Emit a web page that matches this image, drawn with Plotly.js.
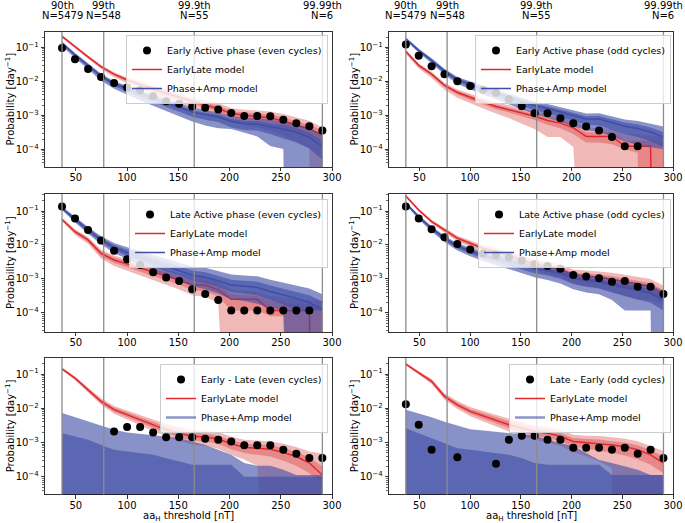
<!DOCTYPE html>
<html>
<head>
<meta charset="utf-8">
<script src="https://cdn.plot.ly/plotly-3.0.1.min.js"></script>
<style>
  html, body { margin: 0; padding: 0; background: #fff; }
  #chart { width: 685px; height: 523px; }
</style>
</head>
<body>
<div id="chart"></div>
<script>
// aaH thresholds [nT] at which the probabilities are evaluated
const thresh = [36.6, 49.3, 62.0, 74.7, 87.4, 100.1, 112.8, 125.5, 138.2, 150.9, 163.6,
                176.3, 189.0, 201.7, 214.4, 227.1, 239.8, 252.5, 265.2, 277.9, 290.6];

// percentile markers (top labels)
const pctX = [36.6, 77.3, 165.6, 290.6];
const pctName = ['90th', '99th', '99.9th', '99.99th'];
const pctCount = [5479, 548, 55, 6];

const panelNames = ['Early Active phase (even cycles)', 'Early Active phase (odd cycles)',
                    'Late Active phase (even cycles)', 'Late Active phase (odd cycles)',
                    'Early - Late (even cycles)', 'Late - Early (odd cycles)'];

// all values below: log10 of probability [day^-1], null = zero probability
// el = EarlyLate model, pa = Phase+Amp model; in = inner band, out = outer band

// panel 1 : Early Active, even cycles
const p1_obs = [-1.02,-1.35,-1.64,-1.87,-2.05,-2.18,-2.26,-2.44,-2.59,-2.66,-2.74,-2.78,-2.83,-2.93,-3.02,-3.02,-3.03,-3.13,-3.23,-3.32,-3.45];
const p1_el_med = [-0.68,-0.99,-1.28,-1.57,-1.79,-1.96,-2.10,-2.23,-2.35,-2.47,-2.60,-2.70,-2.80,-2.95,-3.00,-3.03,-3.08,-3.17,-3.28,-3.40,-3.58];
const p1_el_hi_in = [-0.66,-0.97,-1.26,-1.55,-1.76,-1.93,-2.06,-2.18,-2.30,-2.42,-2.54,-2.63,-2.72,-2.87,-2.92,-2.94,-2.98,-3.06,-3.16,-3.28,-3.44];
const p1_el_lo_in = [-0.70,-1.01,-1.31,-1.60,-1.83,-2.00,-2.15,-2.29,-2.41,-2.54,-2.67,-2.78,-2.89,-3.05,-3.10,-3.14,-3.20,-3.31,-3.44,-3.58,-3.80];
const p1_el_hi_out = [-0.64,-0.95,-1.24,-1.52,-1.73,-1.89,-2.02,-2.13,-2.25,-2.36,-2.48,-2.56,-2.64,-2.79,-2.84,-2.86,-2.89,-2.96,-3.05,-3.16,-3.35];
const p1_el_lo_out = [-0.72,-1.04,-1.34,-1.64,-1.88,-2.06,-2.22,-2.37,-2.50,-2.64,-2.78,-2.90,-3.02,-3.20,-3.28,-3.35,-3.45,-3.60,-3.78,-3.95,null];
const p1_pa_med = [-0.88,-1.22,-1.53,-1.85,-2.07,-2.22,-2.36,-2.49,-2.62,-2.75,-2.90,-2.98,-3.05,-3.18,-3.25,-3.26,-3.32,-3.40,-3.50,-3.65,-3.92];
const p1_pa_hi_in = [-0.85,-1.19,-1.50,-1.81,-2.03,-2.18,-2.32,-2.44,-2.57,-2.70,-2.84,-2.92,-2.98,-3.10,-3.16,-3.17,-3.22,-3.29,-3.38,-3.52,-3.75];
const p1_pa_lo_in = [-0.92,-1.27,-1.58,-1.91,-2.14,-2.31,-2.46,-2.60,-2.74,-2.88,-3.04,-3.13,-3.20,-3.36,-3.43,-3.45,-3.55,-3.68,-3.80,-3.98,-4.30];
const p1_pa_hi_out = [-0.83,-1.17,-1.47,-1.78,-2.00,-2.14,-2.27,-2.39,-2.52,-2.64,-2.77,-2.85,-2.91,-3.02,-3.07,-3.08,-3.12,-3.18,-3.26,-3.38,-3.58];
const p1_pa_lo_out = [-0.96,-1.32,-1.64,-1.98,-2.22,-2.40,-2.56,-2.72,-2.87,-3.02,-3.18,-3.30,-3.38,-3.40,-3.50,-3.62,-3.90,-3.99,null,null,null];

// panel 2 : Early Active, odd cycles
const p2_obs = [-0.92,-1.25,-1.56,-1.79,-2.00,-2.14,-2.25,-2.34,-2.53,-2.73,-2.94,-2.94,-3.09,-3.23,-3.33,-3.45,-3.64,-3.91,-3.91,null,null];
const p2_el_med = [-1.12,-1.53,-1.79,-2.12,-2.33,-2.48,-2.61,-2.74,-2.83,-2.93,-3.03,-3.15,-3.23,-3.37,-3.62,-3.62,-3.62,-3.91,-3.91,-3.91,null];
const p2_el_hi_in = [-1.10,-1.50,-1.76,-2.08,-2.28,-2.43,-2.56,-2.68,-2.77,-2.86,-2.96,-3.07,-3.15,-3.28,-3.50,-3.50,-3.50,-3.75,-3.75,-3.75,-3.80];
const p2_el_lo_in = [-1.15,-1.57,-1.84,-2.17,-2.39,-2.55,-2.68,-2.82,-2.92,-3.03,-3.14,-3.28,-3.38,-3.55,-3.80,-3.80,-3.85,-4.00,-4.10,null,null];
const p2_el_hi_out = [-1.08,-1.47,-1.72,-2.04,-2.24,-2.38,-2.50,-2.62,-2.70,-2.79,-2.88,-2.98,-3.06,-3.18,-3.35,-3.38,-3.40,-3.55,-3.55,-3.60,-3.62];
const p2_el_lo_out = [-1.20,-1.62,-1.90,-2.25,-2.48,-2.65,-2.80,-2.95,-3.08,-3.25,-3.40,-3.64,-3.64,-3.93,null,null,null,null,null,null,null];
const p2_pa_med = [-0.75,-1.09,-1.38,-1.70,-1.95,-2.09,-2.22,-2.34,-2.46,-2.58,-2.72,-2.80,-2.90,-3.00,-3.11,-3.11,-3.21,-3.32,-3.39,-3.49,-3.64];
const p2_pa_hi_in = [-0.73,-1.06,-1.35,-1.66,-1.91,-2.05,-2.17,-2.29,-2.41,-2.52,-2.66,-2.73,-2.83,-2.92,-3.03,-3.02,-3.11,-3.21,-3.27,-3.36,-3.50];
const p2_pa_lo_in = [-0.78,-1.13,-1.43,-1.76,-2.02,-2.17,-2.31,-2.44,-2.57,-2.70,-2.85,-2.94,-3.05,-3.16,-3.28,-3.30,-3.42,-3.55,-3.64,-3.76,-3.93];
const p2_pa_hi_out = [-0.71,-1.04,-1.32,-1.63,-1.87,-2.01,-2.13,-2.25,-2.36,-2.47,-2.60,-2.67,-2.76,-2.85,-2.95,-2.94,-3.03,-3.12,-3.17,-3.25,-3.33];
const p2_pa_lo_out = [-0.80,-1.16,-1.47,-1.81,-2.08,-2.24,-2.39,-2.53,-2.67,-2.81,-2.97,-3.07,-3.19,-3.31,-3.44,-3.48,-3.62,-3.76,-3.87,-3.93,-4.00];

// panel 3 : Late Active, even cycles
const p3_obs = [-0.87,-1.22,-1.56,-1.87,-2.17,-2.42,-2.59,-2.80,-2.96,-3.06,-3.30,-3.44,-3.62,-3.93,-3.93,-3.93,-3.93,-3.93,-3.93,-3.93,null];
const p3_el_med = [-1.25,-1.61,-1.85,-2.25,-2.44,-2.56,-2.69,-2.81,-2.91,-3.03,-3.18,-3.18,-3.32,-3.60,-3.60,-3.60,-3.93,-3.93,-3.93,-3.93,null];
const p3_el_hi_in = [-1.22,-1.57,-1.80,-2.18,-2.36,-2.48,-2.60,-2.71,-2.80,-2.91,-3.05,-3.06,-3.19,-3.45,-3.47,-3.50,-3.65,-3.70,-3.75,-3.75,-3.80];
const p3_el_lo_in = [-1.28,-1.66,-1.91,-2.33,-2.53,-2.66,-2.80,-2.93,-3.04,-3.17,-3.33,-3.36,-3.52,-3.93,-3.93,-3.93,-4.10,-4.10,null,null,null];
const p3_el_hi_out = [-1.20,-1.54,-1.77,-2.14,-2.31,-2.42,-2.53,-2.63,-2.72,-2.83,-2.95,-2.97,-3.08,-3.32,-3.36,-3.38,-3.50,-3.55,-3.60,-3.62,-3.65];
const p3_el_lo_out = [-1.31,-1.70,-1.96,-2.40,-2.62,-2.76,-2.91,-3.05,-3.17,-3.31,-3.48,-3.53,-3.70,null,null,null,null,null,null,null,null];
const p3_pa_med = [-0.92,-1.25,-1.56,-1.85,-2.07,-2.23,-2.36,-2.49,-2.64,-2.75,-2.89,-2.95,-3.05,-3.18,-3.21,-3.25,-3.37,-3.47,-3.57,-3.70,-3.91];
const p3_pa_hi_in = [-0.89,-1.21,-1.51,-1.79,-2.00,-2.14,-2.26,-2.38,-2.52,-2.62,-2.75,-2.80,-2.90,-3.02,-3.05,-3.08,-3.19,-3.28,-3.37,-3.48,-3.66];
const p3_pa_lo_in = [-0.95,-1.30,-1.62,-1.92,-2.16,-2.33,-2.48,-2.62,-2.78,-2.90,-3.05,-3.12,-3.23,-3.38,-3.42,-3.48,-3.62,-3.75,-3.93,-3.93,-3.93];
const p3_pa_hi_out = [-0.87,-1.18,-1.47,-1.74,-1.94,-2.07,-2.18,-2.29,-2.42,-2.51,-2.63,-2.67,-2.76,-2.87,-2.90,-2.92,-3.02,-3.10,-3.18,-3.28,-3.45];
const p3_pa_lo_out = [-0.97,-1.34,-1.67,-1.98,-2.24,-2.42,-2.58,-2.74,-2.91,-3.05,-3.21,-3.30,-3.43,-3.60,-3.65,-3.73,-3.85,-3.93,null,null,null];

// panel 4 : Late Active, odd cycles
const p4_obs = [-0.87,-1.22,-1.54,-1.77,-1.97,-2.13,-2.25,-2.30,-2.36,-2.46,-2.57,-2.62,-2.70,-2.88,-2.93,-2.98,-3.08,-3.06,-3.23,-3.23,-3.44];
const p4_el_med = [-0.56,-0.97,-1.31,-1.56,-1.80,-1.95,-2.10,-2.20,-2.32,-2.44,-2.56,-2.64,-2.72,-2.88,-2.91,-2.95,-3.01,-3.08,-3.15,-3.23,-3.47];
const p4_el_hi_in = [-0.54,-0.95,-1.28,-1.53,-1.76,-1.91,-2.06,-2.15,-2.27,-2.38,-2.50,-2.57,-2.65,-2.81,-2.83,-2.87,-2.92,-2.98,-3.05,-3.12,-3.33];
const p4_el_lo_in = [-0.58,-0.99,-1.34,-1.60,-1.85,-2.00,-2.16,-2.27,-2.40,-2.52,-2.65,-2.74,-2.83,-3.00,-3.04,-3.10,-3.18,-3.27,-3.36,-3.46,-3.65];
const p4_el_hi_out = [-0.52,-0.93,-1.26,-1.50,-1.73,-1.87,-2.01,-2.10,-2.21,-2.32,-2.43,-2.50,-2.57,-2.72,-2.74,-2.78,-2.82,-2.88,-2.94,-3.00,-3.20];
const p4_el_lo_out = [-0.60,-1.02,-1.37,-1.64,-1.90,-2.06,-2.23,-2.35,-2.49,-2.62,-2.76,-2.86,-2.96,-3.14,-3.20,-3.28,-3.38,-3.50,-3.62,-3.62,-3.75];
const p4_pa_med = [-0.77,-1.17,-1.51,-1.80,-2.03,-2.18,-2.30,-2.39,-2.49,-2.59,-2.69,-2.75,-2.83,-2.98,-3.05,-3.08,-3.18,-3.25,-3.32,-3.42,-3.62];
const p4_pa_hi_in = [-0.75,-1.14,-1.48,-1.76,-1.99,-2.13,-2.25,-2.34,-2.43,-2.53,-2.63,-2.69,-2.76,-2.91,-2.97,-3.00,-3.09,-3.15,-3.21,-3.30,-3.48];
const p4_pa_lo_in = [-0.80,-1.21,-1.56,-1.86,-2.10,-2.26,-2.39,-2.50,-2.61,-2.72,-2.83,-2.90,-2.99,-3.15,-3.23,-3.27,-3.40,-3.50,-3.60,-3.70,-3.93];
const p4_pa_hi_out = [-0.73,-1.12,-1.45,-1.73,-1.95,-2.09,-2.21,-2.29,-2.38,-2.48,-2.57,-2.63,-2.70,-2.84,-2.90,-2.92,-3.00,-3.06,-3.11,-3.19,-3.35];
const p4_pa_lo_out = [-0.82,-1.24,-1.60,-1.91,-2.16,-2.33,-2.47,-2.59,-2.71,-2.83,-2.95,-3.03,-3.13,-3.30,-3.40,-3.45,-3.62,-3.93,-3.93,-3.93,null];

// panel 5 : Early - Late, even cycles
const p5_obs = [null,null,null,null,-2.68,-2.55,-2.55,-2.71,-2.85,-2.85,-2.85,-2.89,-2.92,-2.97,-3.08,-3.08,-3.08,-3.21,-3.33,-3.45,-3.45];
const p5_el_med = [-0.85,-1.12,-1.46,-1.80,-2.04,-2.19,-2.34,-2.48,-2.63,-2.73,-2.82,-2.84,-2.90,-3.04,-3.14,-3.17,-3.20,-3.29,-3.41,-3.60,-3.95];
const p5_el_hi_in = [-0.83,-1.09,-1.42,-1.75,-1.98,-2.12,-2.26,-2.40,-2.54,-2.64,-2.72,-2.74,-2.80,-2.94,-3.03,-3.06,-3.08,-3.16,-3.27,-3.44,-3.70];
const p5_el_lo_in = [-0.87,-1.15,-1.50,-1.85,-2.10,-2.26,-2.42,-2.57,-2.73,-2.84,-2.94,-2.97,-3.04,-3.20,-3.31,-3.36,-3.41,-3.53,-3.68,-3.90,-4.20];
const p5_el_hi_out = [-0.81,-1.07,-1.39,-1.71,-1.93,-2.06,-2.19,-2.32,-2.46,-2.55,-2.63,-2.65,-2.70,-2.83,-2.92,-2.94,-2.96,-3.04,-3.13,-3.26,-3.32];
const p5_el_lo_out = [-0.89,-1.18,-1.54,-1.90,-2.16,-2.33,-2.50,-2.66,-2.83,-2.95,-3.06,-3.10,-3.18,-3.36,-3.50,-3.68,null,null,null,null,null];
const p5_pa_med = [null,null,null,null,null,null,null,null,null,null,null,null,null,null,null,null,null,null,null,null,null];
const p5_pa_hi_in = [-2.73,-2.82,-2.92,-3.07,-3.21,-3.26,-3.31,-3.36,-3.46,-3.56,-3.65,-3.65,-3.65,-3.65,-4.00,-4.00,-4.00,-4.00,-4.00,-4.00,-4.00];
const p5_pa_lo_in = [null,null,null,null,null,null,null,null,null,null,null,null,null,null,null,null,null,null,null,null,null];
const p5_pa_hi_out = [-2.14,-2.26,-2.39,-2.51,-2.63,-2.71,-2.75,-2.79,-2.82,-2.87,-2.97,-3.07,-3.21,-3.36,-3.60,-3.68,-3.68,-3.80,-3.95,-3.95,-3.95];
const p5_pa_lo_out = [null,null,null,null,null,null,null,null,null,null,null,null,null,null,null,null,null,null,null,null,null];

// panel 6 : Late - Early, odd cycles
const p6_obs = [-1.88,-2.48,-3.21,null,-3.43,null,null,-3.62,-2.92,-2.80,-2.80,-2.92,-2.92,-3.15,-3.15,-3.15,-3.21,-3.15,-3.33,-3.21,-3.45];
const p6_el_med = [-0.71,-0.97,-1.21,-1.65,-1.90,-2.09,-2.22,-2.34,-2.48,-2.58,-2.68,-2.73,-2.82,-2.97,-3.00,-3.02,-3.07,-3.12,-3.21,-3.36,-3.60];
const p6_el_hi_in = [-0.69,-0.94,-1.17,-1.60,-1.84,-2.02,-2.14,-2.26,-2.39,-2.49,-2.58,-2.63,-2.72,-2.87,-2.90,-2.91,-2.96,-3.00,-3.08,-3.22,-3.42];
const p6_el_lo_in = [-0.73,-1.00,-1.25,-1.70,-1.96,-2.16,-2.30,-2.43,-2.58,-2.69,-2.80,-2.86,-2.96,-3.12,-3.18,-3.22,-3.30,-3.38,-3.50,-3.65,-3.90];
const p6_el_hi_out = [-0.67,-0.92,-1.14,-1.56,-1.79,-1.96,-2.08,-2.19,-2.31,-2.41,-2.50,-2.54,-2.63,-2.77,-2.80,-2.81,-2.85,-2.89,-2.96,-3.10,-3.25];
const p6_el_lo_out = [-0.75,-1.03,-1.29,-1.75,-2.02,-2.23,-2.38,-2.52,-2.68,-2.80,-2.92,-3.00,-3.10,-3.28,-3.40,-3.55,-3.75,null,null,null,null];
const p6_pa_med = [null,null,null,null,null,null,null,null,null,null,null,null,null,null,null,null,null,null,null,null,null];
const p6_pa_hi_in = [-2.58,-2.73,-2.87,-3.02,-3.17,-3.21,-3.26,-3.31,-3.36,-3.46,-3.60,-3.65,-3.65,-3.65,-3.65,-3.65,-3.95,-3.95,-3.95,-3.95,-3.95];
const p6_pa_lo_in = [null,null,null,null,null,null,null,null,null,null,null,null,null,null,null,null,null,null,null,null,null];
const p6_pa_hi_out = [-2.04,-2.14,-2.26,-2.39,-2.51,-2.61,-2.65,-2.68,-2.73,-2.76,-2.80,-2.92,-3.02,-3.10,-3.31,-3.51,-3.60,-3.70,-3.80,-3.95,-3.95];
const p6_pa_lo_out = [null,null,null,null,null,null,null,null,null,null,null,null,null,null,null,null,null,null,null,null,null];

const panels = [
  {obs: p1_obs, el: [p1_el_med, p1_el_lo_in, p1_el_hi_in, p1_el_lo_out, p1_el_hi_out],
   pa: [p1_pa_med, p1_pa_lo_in, p1_pa_hi_in, p1_pa_lo_out, p1_pa_hi_out]},
  {obs: p2_obs, el: [p2_el_med, p2_el_lo_in, p2_el_hi_in, p2_el_lo_out, p2_el_hi_out],
   pa: [p2_pa_med, p2_pa_lo_in, p2_pa_hi_in, p2_pa_lo_out, p2_pa_hi_out]},
  {obs: p3_obs, el: [p3_el_med, p3_el_lo_in, p3_el_hi_in, p3_el_lo_out, p3_el_hi_out],
   pa: [p3_pa_med, p3_pa_lo_in, p3_pa_hi_in, p3_pa_lo_out, p3_pa_hi_out]},
  {obs: p4_obs, el: [p4_el_med, p4_el_lo_in, p4_el_hi_in, p4_el_lo_out, p4_el_hi_out],
   pa: [p4_pa_med, p4_pa_lo_in, p4_pa_hi_in, p4_pa_lo_out, p4_pa_hi_out]},
  {obs: p5_obs, el: [p5_el_med, p5_el_lo_in, p5_el_hi_in, p5_el_lo_out, p5_el_hi_out],
   pa: [p5_pa_med, p5_pa_lo_in, p5_pa_hi_in, p5_pa_lo_out, p5_pa_hi_out]},
  {obs: p6_obs, el: [p6_el_med, p6_el_lo_in, p6_el_hi_in, p6_el_lo_out, p6_el_hi_out],
   pa: [p6_pa_med, p6_pa_lo_in, p6_pa_hi_in, p6_pa_lo_out, p6_pa_hi_out]}
];

const W = 685, H = 523;
const FONT = 'DejaVu Sans, sans-serif';
const RED = '#e0282e', RED_FILL = 'rgba(214,39,40,0.33)';
const BLUE = '#3f4ea6', BLUE_FILL = 'rgba(63,78,166,0.62)';

// zero probability is pushed far below the axis, like matplotlib's log clipping
function modelP(v) { return v === null ? 1e-30 : Math.pow(10, v); }
function obsP(v) { return v === null ? null : Math.pow(10, v); }

// plot area boxes in pixels [left, right] / [top, bottom]
const colPx = [[45, 332], [389, 673]];
const rowPx = [[32, 167], [194, 332], [358, 494.5]];
const rowRange = [[-4.52, -0.55], [-4.56, -0.50], [-4.52, -0.53]];
const legendPx = [[328, 35], [671, 35], [328, 199], [671, 199], [328, 364], [671, 364]];

let data = [];
let layout = {
  width: W, height: H,
  margin: {l: 0, r: 0, t: 0, b: 0},
  paper_bgcolor: 'white', plot_bgcolor: 'white',
  font: {family: FONT, size: 10, color: 'black'},
  shapes: [], annotations: []
};

let minorVals = [];
for (let k = -5; k <= 0; k++) {
  for (let m = 2; m <= 9; m++) minorVals.push(m * Math.pow(10, k));
}

for (let i = 0; i < panels.length; i++) {
  const p = panels[i];
  const n = i + 1;
  const xa = 'x' + (n === 1 ? '' : n);
  const ya = 'y' + (n === 1 ? '' : n);
  const leg = 'legend' + (n === 1 ? '' : n);
  const row = Math.floor(i / 2), col = i % 2;
  const bottomRow = row === 2;

  function band(lo, hi, fill) {
    data.push({x: thresh, y: lo.map(modelP), xaxis: xa, yaxis: ya, mode: 'lines',
               line: {width: 0, color: fill}, hoverinfo: 'skip', showlegend: false, legend: leg});
    data.push({x: thresh, y: hi.map(modelP), xaxis: xa, yaxis: ya, mode: 'lines',
               line: {width: 0, color: fill}, fill: 'tonexty', fillcolor: fill,
               hoverinfo: 'skip', showlegend: false, legend: leg});
  }

  // EarlyLate model
  band(p.el[3], p.el[4], RED_FILL);
  band(p.el[1], p.el[2], RED_FILL);
  data.push({x: thresh, y: p.el[0].map(modelP), xaxis: xa, yaxis: ya, mode: 'lines',
             name: 'EarlyLate model', line: {color: RED, width: 1.5}, legend: leg, legendrank: 2});

  // Phase+Amp model
  band(p.pa[3], p.pa[4], BLUE_FILL);
  band(p.pa[1], p.pa[2], BLUE_FILL);
  data.push({x: thresh, y: p.pa[0].map(modelP), xaxis: xa, yaxis: ya, mode: 'lines',
             name: 'Phase+Amp model',
             line: bottomRow ? {color: 'rgba(63,78,166,0.6)', width: 2.5} : {color: BLUE, width: 1.5},
             legend: leg, legendrank: 3});

  // observations
  data.push({x: thresh, y: p.obs.map(obsP), xaxis: xa, yaxis: ya, mode: 'markers',
             name: panelNames[i], marker: {color: 'black', size: 8}, legend: leg, legendrank: 1});

  const xDom = [colPx[col][0] / W, colPx[col][1] / W];
  const yDom = [1 - rowPx[row][1] / H, 1 - rowPx[row][0] / H];

  layout['xaxis' + (n === 1 ? '' : n)] = {
    domain: xDom, anchor: ya, range: [20, 300],
    tickmode: 'array', tickvals: [50, 100, 150, 200, 250, 300],
    ticks: 'outside', ticklen: 3.5, tickwidth: 0.8, tickcolor: 'black', ticklabelstandoff: -2,
    showline: true, mirror: true, linecolor: 'black', linewidth: 0.8,
    showgrid: false, zeroline: false, tickfont: {size: 10}
  };
  layout['yaxis' + (n === 1 ? '' : n)] = {
    domain: yDom, anchor: xa, type: 'log', range: rowRange[row],
    tickmode: 'array', tickvals: [1e-4, 1e-3, 1e-2, 1e-1],
    ticktext: ['10<sup>\u22124</sup>', '10<sup>\u22123</sup>', '10<sup>\u22122</sup>', '10<sup>\u22121</sup>'],
    ticks: 'outside', ticklen: 3.5, tickwidth: 0.8, tickcolor: 'black',
    minor: {tickmode: 'array', tickvals: minorVals, ticks: 'outside', ticklen: 2,
            tickwidth: 0.6, tickcolor: 'black', showgrid: false},
    showline: true, mirror: true, linecolor: 'black', linewidth: 0.8,
    showgrid: false, zeroline: false, tickfont: {size: 10}
  };

  layout[leg] = {
    x: legendPx[i][0] / W, y: 1 - legendPx[i][1] / H, xanchor: 'right', yanchor: 'top',
    traceorder: 'normal',
    bgcolor: 'rgba(255,255,255,0.8)', bordercolor: '#cccccc', borderwidth: 1,
    font: {family: FONT, size: 9.5, color: 'black'}, itemwidth: 30, tracegroupgap: 0
  };

  // percentile lines
  for (let j = 0; j < pctX.length; j++) {
    layout.shapes.push({type: 'line', xref: xa, yref: ya + ' domain', x0: pctX[j], x1: pctX[j],
                        y0: 0, y1: 1, line: {color: '#8c8c8c', width: 1.3}, layer: 'above'});
  }

  // percentile labels above the first row: name on one line, count below it
  if (row === 0) {
    for (let j = 0; j < pctX.length; j++) {
      layout.annotations.push({
        xref: xa, yref: 'paper', x: pctX[j], y: 1 - 5.5 / H, text: pctName[j],
        showarrow: false, xanchor: 'center', yanchor: 'middle', font: {size: 10}
      });
      layout.annotations.push({
        xref: xa, yref: 'paper', x: pctX[j], y: 1 - 15.5 / H, text: 'N=' + pctCount[j],
        showarrow: false, xanchor: 'center', yanchor: 'middle', font: {size: 10}
      });
    }
  }

  layout.annotations.push({
    xref: 'paper', yref: 'paper', x: (colPx[col][0] - 35) / W,
    y: 1 - (rowPx[row][0] + rowPx[row][1]) / 2 / H,
    text: 'Probability [day<sup>\u22121</sup>]', textangle: -90, showarrow: false,
    xanchor: 'center', yanchor: 'middle', font: {size: 10}
  });
  if (bottomRow) {
    layout.annotations.push({
      xref: 'paper', yref: 'paper', x: (colPx[col][0] + colPx[col][1]) / 2 / W, y: 1 - 516 / H,
      text: 'aa<sub>H</sub> threshold [nT]', showarrow: false,
      xanchor: 'center', yanchor: 'middle', font: {size: 10}
    });
  }
}

Plotly.newPlot('chart', data, layout, {displayModeBar: false, staticPlot: true});
</script>
</body>
</html>
